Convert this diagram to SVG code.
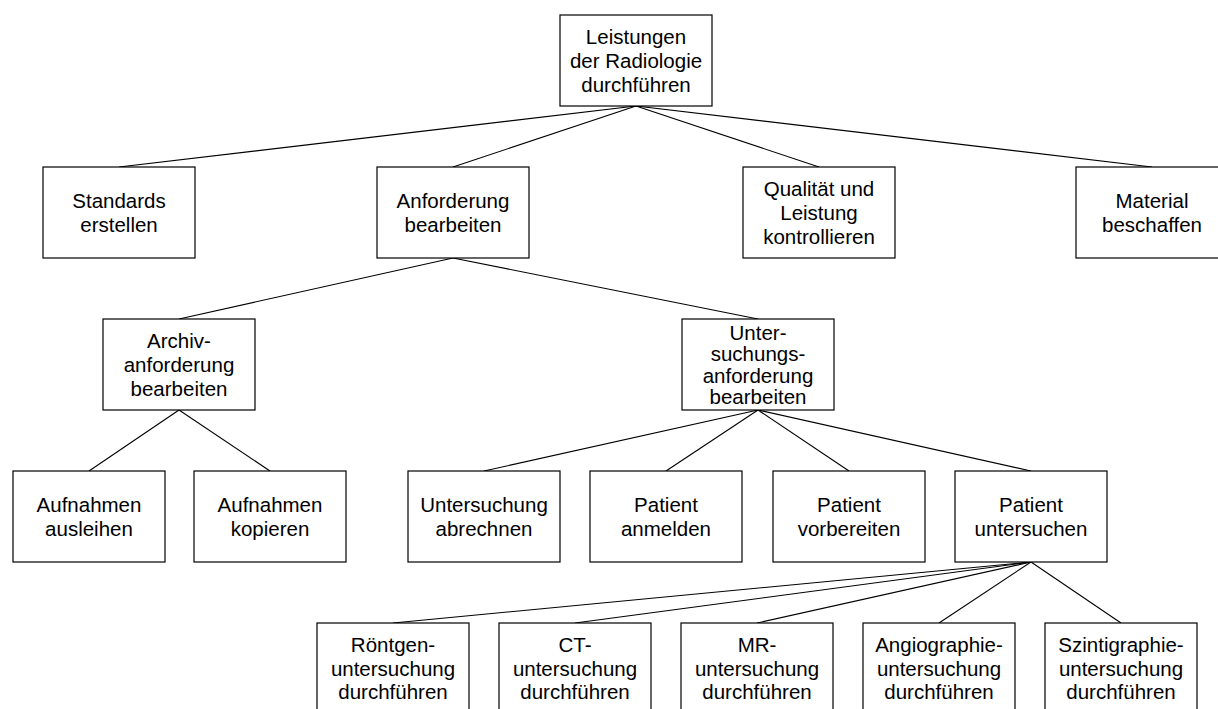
<svg xmlns="http://www.w3.org/2000/svg" width="1218" height="709" viewBox="0 0 1218 709">
  <style>
    .box { fill: #fff; stroke: #000; stroke-width: 1.2; }
    .lbl { font-family: "Liberation Sans", Arial, sans-serif; font-size: 20.5px; fill: #000; text-anchor: middle; }
    .edge { stroke: #000; stroke-width: 1.1; fill: none; }
  </style>
  <rect width="1218" height="709" fill="#fff"/>

  <!-- tree edges: parent bottom centre to child top centre -->
  <g id="connectors">
    <line class="edge" x1="636" y1="106" x2="119" y2="167"/>
    <line class="edge" x1="636" y1="106" x2="453" y2="167"/>
    <line class="edge" x1="636" y1="106" x2="819" y2="167"/>
    <line class="edge" x1="636" y1="106" x2="1152" y2="167"/>

    <line class="edge" x1="453" y1="258" x2="179" y2="319"/>
    <line class="edge" x1="453" y1="258" x2="758" y2="319"/>

    <line class="edge" x1="179" y1="410" x2="89" y2="471"/>
    <line class="edge" x1="179" y1="410" x2="270" y2="471"/>

    <line class="edge" x1="758" y1="410" x2="484" y2="471"/>
    <line class="edge" x1="758" y1="410" x2="666" y2="471"/>
    <line class="edge" x1="758" y1="410" x2="849" y2="471"/>
    <line class="edge" x1="758" y1="410" x2="1031" y2="471"/>

    <line class="edge" x1="1031" y1="562" x2="393" y2="623"/>
    <line class="edge" x1="1031" y1="562" x2="575" y2="623"/>
    <line class="edge" x1="1031" y1="562" x2="757" y2="623"/>
    <line class="edge" x1="1031" y1="562" x2="939" y2="623"/>
    <line class="edge" x1="1031" y1="562" x2="1121" y2="623"/>
  </g>

  <!-- level 0 -->
  <g id="n-root">
    <rect class="box" x="560" y="15" width="152" height="91"/>
    <text class="lbl" x="636" y="43.5">Leistungen</text>
    <text class="lbl" x="636" y="67.5">der Radiologie</text>
    <text class="lbl" x="636" y="91.5">durchführen</text>
  </g>

  <!-- level 1 -->
  <g id="n-standards">
    <rect class="box" x="43" y="167" width="152" height="91"/>
    <text class="lbl" x="119" y="207.5">Standards</text>
    <text class="lbl" x="119" y="231.5">erstellen</text>
  </g>
  <g id="n-anforderung">
    <rect class="box" x="377" y="167" width="152" height="91"/>
    <text class="lbl" x="453" y="207.5">Anforderung</text>
    <text class="lbl" x="453" y="231.5">bearbeiten</text>
  </g>
  <g id="n-qualitaet">
    <rect class="box" x="743" y="167" width="152" height="91"/>
    <text class="lbl" x="819" y="195.5">Qualität und</text>
    <text class="lbl" x="819" y="219.5">Leistung</text>
    <text class="lbl" x="819" y="243.5">kontrollieren</text>
  </g>
  <g id="n-material">
    <rect class="box" x="1076" y="167" width="152" height="91"/>
    <text class="lbl" x="1152" y="207.5">Material</text>
    <text class="lbl" x="1152" y="231.5">beschaffen</text>
  </g>

  <!-- level 2 -->
  <g id="n-archiv">
    <rect class="box" x="103" y="319" width="152" height="91"/>
    <text class="lbl" x="179" y="347.5">Archiv-</text>
    <text class="lbl" x="179" y="371.5">anforderung</text>
    <text class="lbl" x="179" y="395.5">bearbeiten</text>
  </g>
  <g id="n-untersuchungsanforderung">
    <rect class="box" x="682" y="319" width="152" height="91"/>
    <text class="lbl" x="758" y="339.5">Unter-</text>
    <text class="lbl" x="758" y="361">suchungs-</text>
    <text class="lbl" x="758" y="382.5">anforderung</text>
    <text class="lbl" x="758" y="404">bearbeiten</text>
  </g>

  <!-- level 3 -->
  <g id="n-ausleihen">
    <rect class="box" x="13" y="471" width="152" height="91"/>
    <text class="lbl" x="89" y="511.5">Aufnahmen</text>
    <text class="lbl" x="89" y="535.5">ausleihen</text>
  </g>
  <g id="n-kopieren">
    <rect class="box" x="194" y="471" width="152" height="91"/>
    <text class="lbl" x="270" y="511.5">Aufnahmen</text>
    <text class="lbl" x="270" y="535.5">kopieren</text>
  </g>
  <g id="n-abrechnen">
    <rect class="box" x="408" y="471" width="152" height="91"/>
    <text class="lbl" x="484" y="511.5">Untersuchung</text>
    <text class="lbl" x="484" y="535.5">abrechnen</text>
  </g>
  <g id="n-anmelden">
    <rect class="box" x="590" y="471" width="152" height="91"/>
    <text class="lbl" x="666" y="511.5">Patient</text>
    <text class="lbl" x="666" y="535.5">anmelden</text>
  </g>
  <g id="n-vorbereiten">
    <rect class="box" x="773" y="471" width="152" height="91"/>
    <text class="lbl" x="849" y="511.5">Patient</text>
    <text class="lbl" x="849" y="535.5">vorbereiten</text>
  </g>
  <g id="n-untersuchen">
    <rect class="box" x="955" y="471" width="152" height="91"/>
    <text class="lbl" x="1031" y="511.5">Patient</text>
    <text class="lbl" x="1031" y="535.5">untersuchen</text>
  </g>

  <!-- level 4 -->
  <g id="n-roentgen">
    <rect class="box" x="317" y="623" width="152" height="91"/>
    <text class="lbl" x="393" y="652">Röntgen-</text>
    <text class="lbl" x="393" y="675.5">untersuchung</text>
    <text class="lbl" x="393" y="699">durchführen</text>
  </g>
  <g id="n-ct">
    <rect class="box" x="499" y="623" width="152" height="91"/>
    <text class="lbl" x="575" y="652">CT-</text>
    <text class="lbl" x="575" y="675.5">untersuchung</text>
    <text class="lbl" x="575" y="699">durchführen</text>
  </g>
  <g id="n-mr">
    <rect class="box" x="681" y="623" width="152" height="91"/>
    <text class="lbl" x="757" y="652">MR-</text>
    <text class="lbl" x="757" y="675.5">untersuchung</text>
    <text class="lbl" x="757" y="699">durchführen</text>
  </g>
  <g id="n-angio">
    <rect class="box" x="863" y="623" width="152" height="91"/>
    <text class="lbl" x="939" y="652">Angiographie-</text>
    <text class="lbl" x="939" y="675.5">untersuchung</text>
    <text class="lbl" x="939" y="699">durchführen</text>
  </g>
  <g id="n-szinti">
    <rect class="box" x="1045" y="623" width="152" height="91"/>
    <text class="lbl" x="1121" y="652">Szintigraphie-</text>
    <text class="lbl" x="1121" y="675.5">untersuchung</text>
    <text class="lbl" x="1121" y="699">durchführen</text>
  </g>
</svg>
